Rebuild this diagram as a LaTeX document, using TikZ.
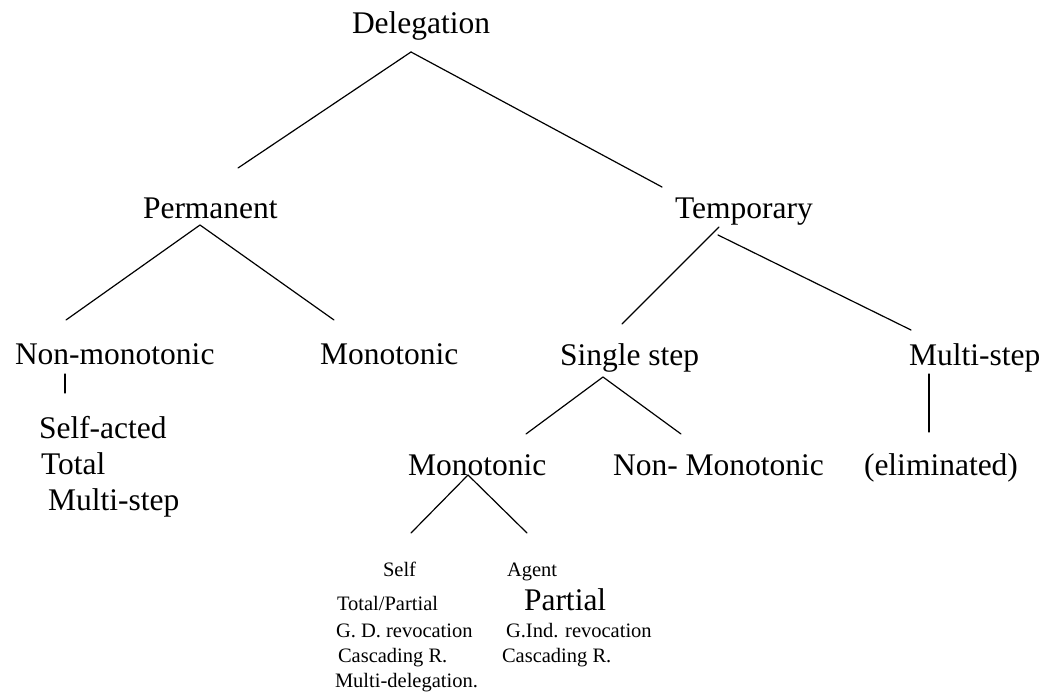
\documentclass[tikz,border=0pt]{standalone}
\usepackage{graphicx}
\usepackage{fontspec}
\setmainfont{Liberation Serif}
\usetikzlibrary{calc}
\newcommand{\BigLbl}[1]{\scalebox{2}{\fontsize{15.75}{18}\selectfont #1}}
\tikzset{
  lbl/.style={anchor=base west, inner sep=0pt, outer sep=0pt},
  sml/.style={anchor=base west, inner sep=0pt, outer sep=0pt, font=\fontsize{20.5}{26}\selectfont},
  conn/.style={line width=1.2pt, line cap=round}
}
\begin{document}
\begin{tikzpicture}[x=1pt, y=-1pt]
\useasboundingbox (0,0) rectangle (1052,692);
% main labels
\node[lbl] (del) at (352,34) {\BigLbl{Delegation}};
\node[lbl] (perm) at (143,219) {\BigLbl{Permanent}};
\node[lbl] (temp) at (675,219) {\BigLbl{Temporary}};
\node[lbl] (nonmono) at (15,365) {\BigLbl{Non-monotonic}};
\node[lbl] (monoA) at (320,365) {\BigLbl{Monotonic}};
\node[lbl] (single) at (560,366) {\BigLbl{Single step}};
\node[lbl] (multi) at (909,366) {\BigLbl{Multi-step}};
\node[lbl] (selfacted) at (39,438) {\BigLbl{Self-acted}};
\node[lbl] (total) at (41,474) {\BigLbl{Total}};
\node[lbl] (multiB) at (48,510) {\BigLbl{Multi-step}};
\node[lbl] (monoB) at (408,475) {\BigLbl{Monotonic}};
\node[lbl] (nonmonoB) at (613,475) {\BigLbl{Non- Monotonic}};
\node[lbl] (elim) at (864,475) {\BigLbl{(eliminated)}};
% bottom small text
\node[sml] (self) at (383,576) {Self};
\node[sml] (agent) at (507,576) {Agent};
\node[sml] (totpart) at (337,610) {Total/Partial};
\node[lbl] (partial) at (524,610) {\BigLbl{Partial}};
\node[sml] (gd) at (336,637) {G. D. revocation};
\node[sml] (gind) at (506,637) {G.Ind. revocation};
\node[sml] (cascA) at (338,662) {Cascading R.};
\node[sml] (cascB) at (502,662) {Cascading R.};
\node[sml] (multidel) at (335,687) {Multi-delegation.};
% connectors
\draw[conn] ($(del.base west)+(59,18)$) -- ($(perm.base west)+(95,-51)$);
\draw[conn] ($(del.base west)+(59,18)$) -- ($(temp.base west)+(-13,-32)$);
\draw[conn] ($(perm.base west)+(57,6)$) -- ($(nonmono.base west)+(51,-45)$);
\draw[conn] ($(perm.base west)+(57,6)$) -- ($(monoA.base west)+(14,-45)$);
\draw[conn] ($(temp.base west)+(44,8)$) -- ($(single.base west)+(62,-42)$);
\draw[conn] ($(temp.base west)+(43,16)$) -- ($(multi.base west)+(2,-36)$);
\draw[conn] ($(nonmono.base west)+(50,9)$) -- ($(selfacted.base west)+(26,-45)$);
\draw[conn] ($(single.base west)+(43,11)$) -- ($(monoB.base west)+(118,-41)$);
\draw[conn] ($(single.base west)+(43,11)$) -- ($(nonmonoB.base west)+(68,-41)$);
\draw[conn] ($(multi.base west)+(20,8)$) -- ($(elim.base west)+(65,-43)$);
\draw[conn] ($(monoB.base west)+(60,0)$) -- ($(self.base west)+(28,-43)$);
\draw[conn] ($(monoB.base west)+(60,0)$) -- ($(agent.base west)+(20,-43)$);
\end{tikzpicture}
\end{document}
